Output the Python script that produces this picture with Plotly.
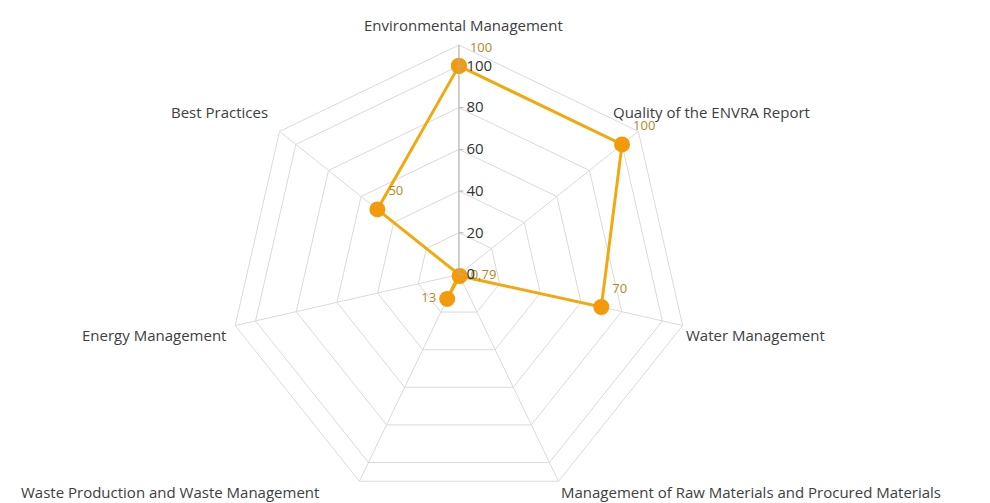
"""radar chart of environmental assessment scores"""

import plotly.graph_objects as go

categories = [
    "Environmental Management",
    "Quality of the ENVRA Report",
    "Water Management",
    "Management of Raw Materials and Procured Materials",
    "Waste Production and Waste Management",
    "Energy Management",
    "Best Practices",
]
scores = [100, 100, 70, 0.79, 13, 0, 50]
score_labels = ["100", "100", "70", "0,79", "13", "0", "50"]
label_positions = ["top right", "top right", "top right", "middle right",
                   "middle left", "top center", "top right"]

radial_ticks = [0, 20, 40, 60, 80, 100]

line_color = '#F2A90F'
marker_color = '#F39A0B'
grid_color = '#DADADA'
text_color = '#404040'

W, H = 990, 503
M_TOP, M_BOT = 37, 7

fig = go.Figure()

fig.add_trace(
    go.Scatterpolar(
        r=scores + scores[:1],
        theta=categories + categories[:1],
        mode='lines+markers+text',
        text=score_labels + [""],
        textposition=label_positions + ["top right"],
        textfont=dict(color='#B08A1E', size=13),
        line=dict(color=line_color, width=3),
        marker=dict(color=marker_color, size=16),
        showlegend=False,
        hoverinfo="none",
    )
)

# category labels sit well outside the grid, placed by hand (pixels)
cat_label_place = [
    (455, 17, 'center'),
    (603, 104, 'left'),
    (676, 327, 'left'),
    (551, 484, 'left'),
    (11, 484, 'left'),
    (220, 327, 'right'),
    (262, 104, 'right'),
]
plot_h = H - M_TOP - M_BOT
for name, (px, py, anchor) in zip(categories, cat_label_place):
    fig.add_annotation(
        x=px / W, y=(H - M_BOT - py) / plot_h,
        xref='paper', yref='paper',
        xanchor=anchor, yanchor='middle',
        text=name, showarrow=False,
        font=dict(size=15, color=text_color),
    )

fig.update_layout(
    width=W,
    height=H,
    paper_bgcolor='white',
    plot_bgcolor='white',
    font=dict(family="Open Sans, DejaVu Sans, sans-serif", size=13, color=text_color),
    margin=dict(l=0, r=0, t=M_TOP, b=M_BOT),
    polar=dict(
        domain=dict(x=[0.2237, 0.6873], y=[0.0, 1.0]),
        gridshape='linear',
        bgcolor='white',
        angularaxis=dict(
            direction='clockwise',
            rotation=90,
            showline=True,
            linecolor=grid_color,
            linewidth=1,
            gridcolor=grid_color,
            ticks='',
            showticklabels=False,
        ),
        radialaxis=dict(
            range=[0, 110],
            angle=90,
            tickangle=90,
            tickvals=radial_ticks,
            showline=True,
            linecolor='#B0B0B0',
            linewidth=1,
            gridcolor=grid_color,
            ticks='outside',
            ticklen=4,
            tickcolor='#B0B0B0',
            tickfont=dict(size=15, color='#333333'),
        ),
    ),
)

fig.write_html("out.html")
